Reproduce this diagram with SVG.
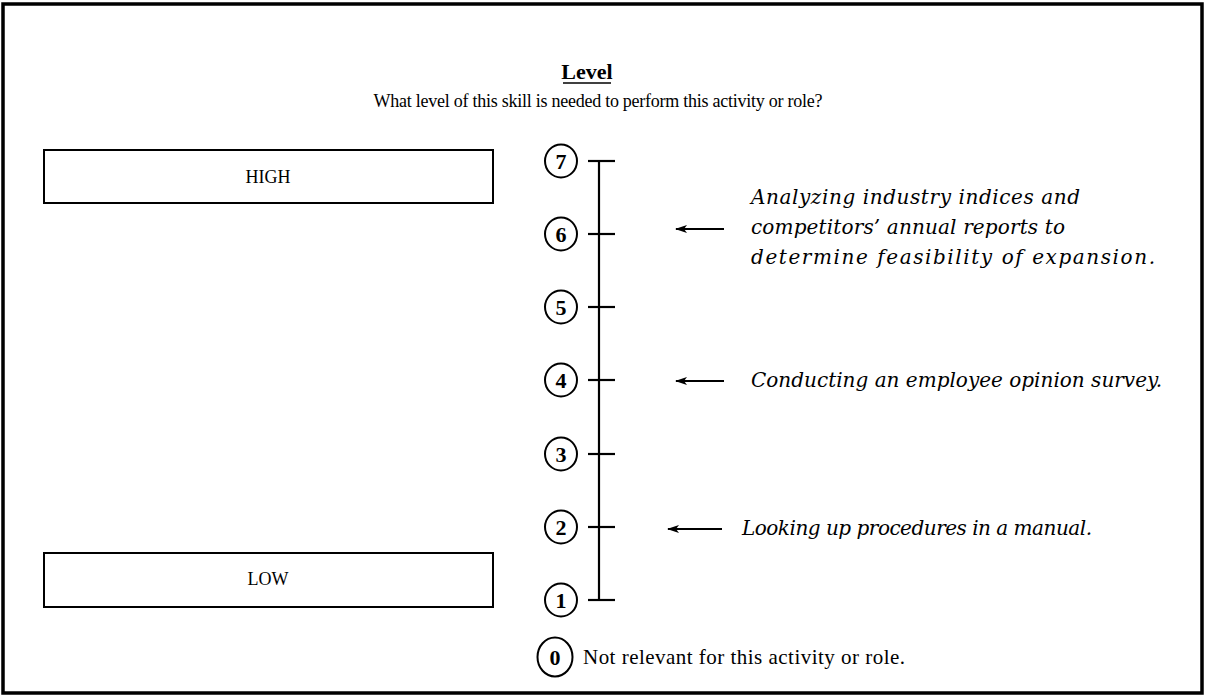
<svg xmlns="http://www.w3.org/2000/svg" width="1207" height="698" viewBox="0 0 1207 698">
<defs>
<marker id="ah" viewBox="0 0 12 8" refX="11" refY="4" markerWidth="12" markerHeight="8" markerUnits="userSpaceOnUse" orient="auto">
<path d="M12,4 L0,0 L3,4 L0,8 Z" fill="#000"/>
</marker>
</defs>
<style>
.serif{font-family:"Liberation Serif","Times New Roman",serif;fill:#000}
.ital{font-family:"DejaVu Serif","Liberation Serif",serif;font-style:italic;fill:#000;font-size:20px}
.box{fill:#fff;stroke:#000;stroke-width:2}
.circ{fill:none;stroke:#000;stroke-width:2}
.num{font-family:"Liberation Serif","Times New Roman",serif;font-weight:bold;font-size:22px;text-anchor:middle;fill:#000}
.ln{stroke:#000;stroke-width:2.2;fill:none}
.arr{stroke:#000;stroke-width:1.8;fill:none}
</style>
<rect x="0" y="0" width="1207" height="698" fill="#fff"/>
<rect x="3" y="4" width="1199" height="689" fill="none" stroke="#000" stroke-width="3.5"/>

<g id="title">
<text class="serif" x="587" y="79" font-size="22" font-weight="bold" text-anchor="middle">Level</text>
<line x1="563" y1="83" x2="611" y2="83" stroke="#000" stroke-width="1.6"/>
<text class="serif" x="598" y="107" font-size="18" text-anchor="middle" textLength="449">What level of this skill is needed to perform this activity or role?</text>
</g>

<g id="high">
<rect class="box" x="44" y="150" width="449" height="53"/>
<text class="serif" x="268" y="183" font-size="18" text-anchor="middle">HIGH</text>
</g>
<g id="low">
<rect class="box" x="44" y="553" width="449" height="54"/>
<text class="serif" x="268" y="585" font-size="18" text-anchor="middle">LOW</text>
</g>

<g id="scale">
<line class="ln" x1="599" y1="161" x2="599" y2="600"/>
<line class="ln" x1="588" y1="161" x2="615" y2="161"/>
<line class="ln" x1="588" y1="234" x2="615" y2="234"/>
<line class="ln" x1="588" y1="307" x2="615" y2="307"/>
<line class="ln" x1="588" y1="380" x2="615" y2="380"/>
<line class="ln" x1="588" y1="454" x2="615" y2="454"/>
<line class="ln" x1="588" y1="527" x2="615" y2="527"/>
<line class="ln" x1="588" y1="600" x2="615" y2="600"/>
</g>

<g id="level7"><ellipse class="circ" cx="561" cy="161" rx="16" ry="16.5"/><text class="num" x="561" y="169">7</text></g>
<g id="level6"><ellipse class="circ" cx="561" cy="234" rx="16" ry="16.5"/><text class="num" x="561" y="242">6</text></g>
<g id="level5"><ellipse class="circ" cx="561" cy="307" rx="16" ry="16.5"/><text class="num" x="561" y="315">5</text></g>
<g id="level4"><ellipse class="circ" cx="561" cy="380" rx="16" ry="16.5"/><text class="num" x="561" y="388">4</text></g>
<g id="level3"><ellipse class="circ" cx="561" cy="454" rx="16" ry="16.5"/><text class="num" x="561" y="462">3</text></g>
<g id="level2"><ellipse class="circ" cx="561" cy="527" rx="16" ry="16.5"/><text class="num" x="561" y="535">2</text></g>
<g id="level1"><ellipse class="circ" cx="561" cy="600" rx="16" ry="16.5"/><text class="num" x="561" y="608">1</text></g>

<g id="level0">
<ellipse class="circ" cx="555" cy="657" rx="17.5" ry="19.5"/>
<text class="num" x="555" y="665">0</text>
<text class="serif" x="583" y="664" font-size="21" textLength="322">Not relevant for this activity or role.</text>
</g>

<g id="example6">
<text class="ital"><tspan x="751" y="204" textLength="329">Analyzing industry indices and</tspan><tspan x="751" y="234" textLength="314">competitors’ annual reports to</tspan><tspan x="751" y="264" textLength="404">determine feasibility of expansion.</tspan></text>
</g>
<g id="example4">
<text class="ital" x="751" y="387" textLength="411">Conducting an employee opinion survey.</text>
</g>
<g id="example2">
<text class="ital" x="742" y="535" textLength="350">Looking up procedures in a manual.</text>
</g>

<g id="connectors">
<line class="arr" x1="724" y1="229" x2="676" y2="229" marker-end="url(#ah)"/>
<line class="arr" x1="724" y1="381" x2="676" y2="381" marker-end="url(#ah)"/>
<line class="arr" x1="722" y1="529" x2="668" y2="529" marker-end="url(#ah)"/>
</g>
</svg>
